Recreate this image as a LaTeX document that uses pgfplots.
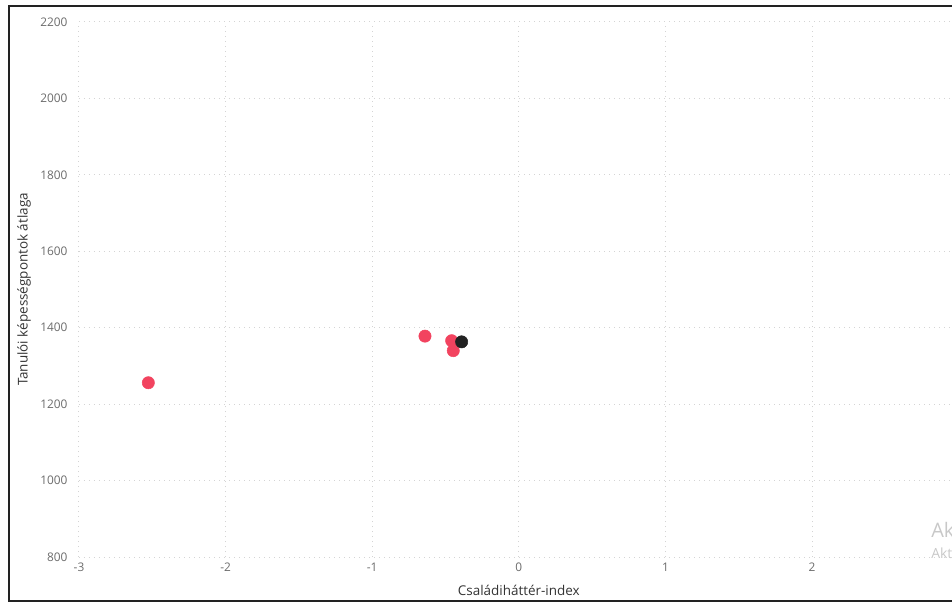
\documentclass[border=0pt]{standalone}
\usepackage{pgfplots}
\pgfplotsset{compat=1.18}
\usepackage{fontspec}
\setmainfont{Open Sans}
\definecolor{ptred}{HTML}{F2435F}
\definecolor{ptblack}{HTML}{222222}
\definecolor{ticklab}{HTML}{6B6B6B}
\definecolor{axlab}{HTML}{333333}
\definecolor{gridc}{HTML}{D4D4D4}
\definecolor{wm}{HTML}{C8C8C8}
\begin{document}
\begin{tikzpicture}
\useasboundingbox (-59.25pt,-35.25pt) rectangle (654.75pt,417.75pt);
\clip (-59.25pt,-35.25pt) rectangle (654.75pt,417.75pt);
\begin{axis}[
  at={(0pt,0pt)}, anchor=south west,
  scale only axis,
  width=659.7pt, height=401.25pt,
  xmin=-3, xmax=3, ymin=800, ymax=2200,
  xtick={-3,-2,-1,0,1,2},
  extra x ticks={3}, extra x tick labels={},
  ytick={800,1000,1200,1400,1600,1800,2000,2200},
  axis line style={draw=none},
  major tick length=0pt,
  tick style={draw=none},
  grid=major,
  major grid style={draw=gridc, line width=0.75pt, dash pattern=on 0.75pt off 3pt},
  /pgf/number format/assume math mode=true,
  /pgf/number format/1000 sep={},
  ticklabel style={font=\fontsize{8.9pt}{10pt}\selectfont, text=ticklab, inner sep=0pt},
  yticklabel style={anchor=east, xshift=-8.5pt},
  xticklabel style={anchor=north, yshift=-4.4pt},
  xlabel={Családiháttér-index},
  ylabel={Tanulói képességpontok átlaga},
  xlabel style={at={(axis description cs:0.5,-0.0617)}, anchor=center, inner sep=0pt, font=\fontsize{10.1pt}{12pt}\selectfont, text=axlab},
  ylabel style={at={(axis description cs:-0.0625,0.5)}, anchor=center, inner sep=0pt, font=\fontsize{10.1pt}{12pt}\selectfont, text=axlab},
  clip=false,
]
\addplot[only marks, mark=*, mark size=4.6pt, mark options={fill=ptred, draw=ptred}]
  coordinates {(-2.527,1256) (-0.640,1378) (-0.458,1366) (-0.447,1340)};
\addplot[only marks, mark=*, mark size=4.6pt, mark options={fill=ptblack, draw=ptblack}]
  coordinates {(-0.390,1363)};
\end{axis}
\node[anchor=base west, inner sep=0pt, text=wm, font=\fontsize{15pt}{18pt}\selectfont] at (639pt,15pt) {Aktiválja a Windows-t};
\node[anchor=base west, inner sep=0pt, text=wm, font=\fontsize{10.5pt}{12pt}\selectfont] at (639pt,-0.75pt) {Aktiválja a Windows-t a Gépházban.};
\draw[ptblack, line width=1.5pt] (750pt,413.6pt) -- (-52.5pt,413.6pt) -- (-52.5pt,-33pt) -- (750pt,-33pt);
\end{tikzpicture}
\end{document}
